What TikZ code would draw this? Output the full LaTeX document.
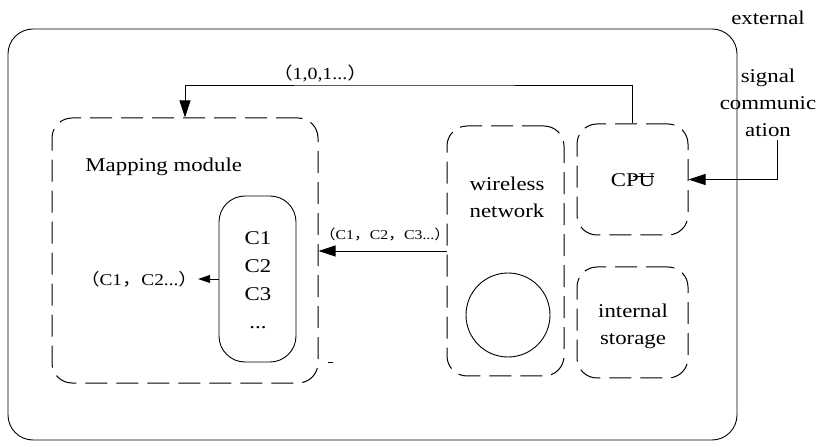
\documentclass[tikz,border=0pt]{standalone}
\usepackage{fontspec}
\setmainfont{Liberation Serif}[FakeStretch=1.17]
\newfontfamily\cjk{Noto Sans CJK SC}[FakeStretch=1.17]
\usetikzlibrary{arrows.meta}
\newcommand{\fwlp}{{\cjk （}}
\newcommand{\fwrp}{{\cjk ）}}
\newcommand{\fwcm}{{\cjk ，}}

\begin{document}
\begin{tikzpicture}[x=1pt,y=-1pt,line width=0.9pt]
\tikzset{every node/.style={inner sep=0pt,font=\fontsize{19.5}{27}\selectfont},
  dashbox/.style={draw,line width=1pt,rounded corners=20pt,dash pattern=on 22pt off 9pt},
  solidbox/.style={draw,rounded corners=#1},
  bigtip/.style={-{Triangle[length=17pt,width=11pt]}},
  smalltip/.style={-{Triangle[length=12pt,width=8pt]}},
  smalltext/.style={font=\fontsize{#1}{#1}\selectfont}}
\useasboundingbox (0,0) rectangle (819,443);
% outer frame
\node [solidbox=25pt,minimum width=729pt,minimum height=411pt] (frame) at (372.5,234.5) {};
% mapping module
\node [dashbox,minimum width=266pt,minimum height=265pt] (map) at (185,250.5) {};
\node [anchor=base west] (maplabel) at (85,172) {Mapping module};
\node [solidbox=26pt,minimum width=77pt,minimum height=166pt] (cbox) at (257.5,279) {};
\node [anchor=base] (c1) at (258,244.5) {C1};
\node [anchor=base] (c2) at (258,272.5) {C2};
\node [anchor=base] (c3) at (258,300.5) {C3};
\node [anchor=base] (c4) at (258,328.5) {...};
\node [smalltext=16.5] (cout) at (139,279) {\fwlp C1\fwcm C2...\fwrp};
\draw [smalltip] (cbox.west) -- (cout.east);
\draw [line width=0.8pt] (328,362) -- (333,362);
% wireless network
\node [dashbox,minimum width=117pt,minimum height=250pt] (wn) at (505.5,251) {};
\node [align=center] (wnlabel) at (507,197) {wireless\\network};
\node [draw,circle,minimum size=84pt] (antenna) at (508,315) {};
% cpu and storage
\node [dashbox,minimum width=111pt,minimum height=111pt] (cpu) at (632.5,179.5) {};
\node [anchor=base] (cpulabel) at (633,187) {CPU};
\draw (633,176) -- (654,176);
\node [dashbox,minimum width=111pt,minimum height=111pt] (mem) at (632.5,322.5) {};
\node [align=center] (memlabel) at (633,326) {internal\\storage};
% external signal
\node [anchor=base] (ext) at (768,25) {external};
\node [align=center,anchor=base] (sigtext) at (768,137) {signal\\communic\\ation};
\coordinate (sig) at (777,140);
\draw [bigtip] (sig) |- (cpu.east);
% connectors
\coordinate (bus) at (400,85);
\draw [bigtip] (cpu.north) |- (bus) -| (map.north);
\node [smalltext=17] (buslabel) at (320,74) {\fwlp 1,0,1...\fwrp};
\draw [bigtip] (wn.west) -- (map.east |- wn.west);
\node [smalltext=13.5] (wnout) at (385,234) {\fwlp C1\fwcm C2\fwcm C3...\fwrp};
\end{tikzpicture}
\end{document}
